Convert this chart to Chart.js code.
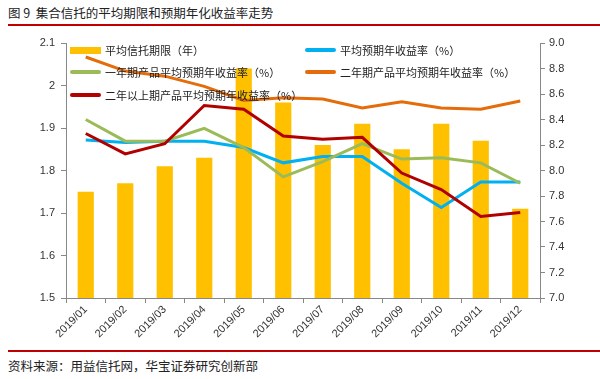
<!DOCTYPE html>
<html><head><meta charset="utf-8">
<script src="https://cdn.jsdelivr.net/npm/chart.js@4.4.0/dist/chart.umd.min.js"></script>
<style>
html,body{margin:0;padding:0;background:#fff;width:600px;height:379px;overflow:hidden;font-family:"Noto Sans CJK SC","Liberation Sans",sans-serif;}
#title{position:absolute;left:8px;top:3px;font-size:12.5px;color:#222;white-space:nowrap;}
#topline{position:absolute;left:8px;right:0;top:24px;height:2px;background:#C00000;}
#botline{position:absolute;left:8px;right:0;top:350px;height:2px;background:#C00000;}
#source{position:absolute;left:8px;top:356px;font-size:12.5px;color:#222;white-space:nowrap;}
#wrap{position:absolute;left:0;top:30px;width:600px;height:320px;}
.lg{position:absolute;font-size:11px;color:#222;white-space:nowrap;letter-spacing:0px;display:flex;align-items:center;}
.sw{display:inline-block;width:31px;margin-right:4px;}
</style></head><body>
<div id="title">图 9&nbsp;&nbsp;集合信托的平均期限和预期年化收益率走势</div>
<div id="topline"></div>
<div id="wrap"><canvas id="c" width="600" height="320"></canvas></div>
<div id="legend"></div>
<div id="botline"></div>
<div id="source">资料来源：用益信托网，华宝证券研究创新部</div>
<script>
const categories = ["2019/01","2019/02","2019/03","2019/04","2019/05","2019/06","2019/07","2019/08","2019/09","2019/10","2019/11","2019/12"];
const avgTerm   = [1.75,1.77,1.81,1.83,2.04,1.96,1.86,1.91,1.85,1.91,1.87,1.71];
const avgYield  = [8.24,8.22,8.23,8.23,8.18,8.06,8.11,8.11,7.90,7.71,7.91,7.91];
const oneYear   = [8.40,8.23,8.23,8.33,8.18,7.95,8.07,8.21,8.09,8.10,8.06,7.90];
const twoYear   = [8.89,8.78,8.74,8.66,8.55,8.57,8.56,8.49,8.54,8.49,8.48,8.545];
const twoPlus   = [8.29,8.13,8.21,8.51,8.48,8.27,8.245,8.26,7.98,7.85,7.64,7.67];
const leftTicks = [1.5,1.6,1.7,1.8,1.9,2.0,2.1];
const rightTicks = [7.0,7.2,7.4,7.6,7.8,8.0,8.2,8.4,8.6,8.8,9.0];

const labels = {
  term:"平均信托期限（年）", avg:"平均预期年收益率（%）", one:"一年期产品平均预期年收益率（%）",
  two:"二年期产品平均预期年收益率（%）", plus:"二年以上期产品平均预期年收益率（%）"
};
const colors = {term:"#FFC000", avg:"#00B0F0", one:"#9BBB59", two:"#E46C0A", plus:"#B00000"};

function lineDs(label,data,color,order){
  return {type:"line",label,data,borderColor:color,backgroundColor:color,borderWidth:3,pointRadius:0,tension:0,yAxisID:"y1",order};
}
const tickFont = {family:"Liberation Sans, Arial, sans-serif", size:11};
new Chart(document.getElementById("c"),{
  data:{labels:categories,datasets:[
    {type:"bar",label:labels.term,data:avgTerm,backgroundColor:colors.term,yAxisID:"y",categoryPercentage:1,barPercentage:0.41,order:10},
    lineDs(labels.two,twoYear,colors.two,5),
    lineDs(labels.avg,avgYield,colors.avg,4),
    lineDs(labels.one,oneYear,colors.one,3),
    lineDs(labels.plus,twoPlus,colors.plus,2)
  ]},
  options:{
    responsive:false,animation:false,
    layout:{padding:{top:13,right:0,left:0,bottom:0}},
    plugins:{legend:{display:false},tooltip:{enabled:false}},
    scales:{
      x:{grid:{display:true,offset:true,drawOnChartArea:false,tickLength:5,color:"#888"},
         border:{color:"#888",width:1},
         ticks:{font:tickFont,color:"#333",minRotation:45,maxRotation:45,padding:0},
         afterFit(s){s.height=52;}},
      y:{position:"left",min:1.5,max:2.1,
         afterBuildTicks(s){s.ticks=leftTicks.map(v=>({value:v}));},
         grid:{display:true,drawOnChartArea:false,tickLength:5,color:"#888"},
         border:{color:"#888",width:1},
         ticks:{font:tickFont,color:"#333",padding:6,callback:v=>String(Math.round(v*10)/10)},
         afterFit(s){s.width=66;}},
      y1:{position:"right",min:7.0,max:9.0,
         afterBuildTicks(s){s.ticks=rightTicks.map(v=>({value:v}));},
         grid:{display:true,drawOnChartArea:false,tickLength:5,color:"#888"},
         border:{color:"#888",width:1},
         ticks:{font:tickFont,color:"#333",padding:4,callback:v=>v.toFixed(1)},
         afterFit(s){s.width=60;}}
    }
  }
});

// HTML legend in two columns
const legendItems = [
  {k:"term",x:70,y:50,bar:true},{k:"avg",x:305,y:50},
  {k:"one",x:70,y:72},{k:"two",x:305,y:72},
  {k:"plus",x:70,y:95}
];
const lg = document.getElementById("legend");
legendItems.forEach(it=>{
  const d=document.createElement("div");d.className="lg";
  d.style.left=it.x+"px";d.style.top=(it.y-8)+"px";d.style.height="16px";
  const sw=document.createElement("span");sw.className="sw";
  sw.style.height=it.bar?"7px":"4px";sw.style.background=colors[it.k];
  if(!it.bar) sw.style.borderRadius="2px";
  d.appendChild(sw);
  const t=document.createElement("span");t.textContent=labels[it.k];d.appendChild(t);
  lg.appendChild(d);
});
</script>
</body></html>
